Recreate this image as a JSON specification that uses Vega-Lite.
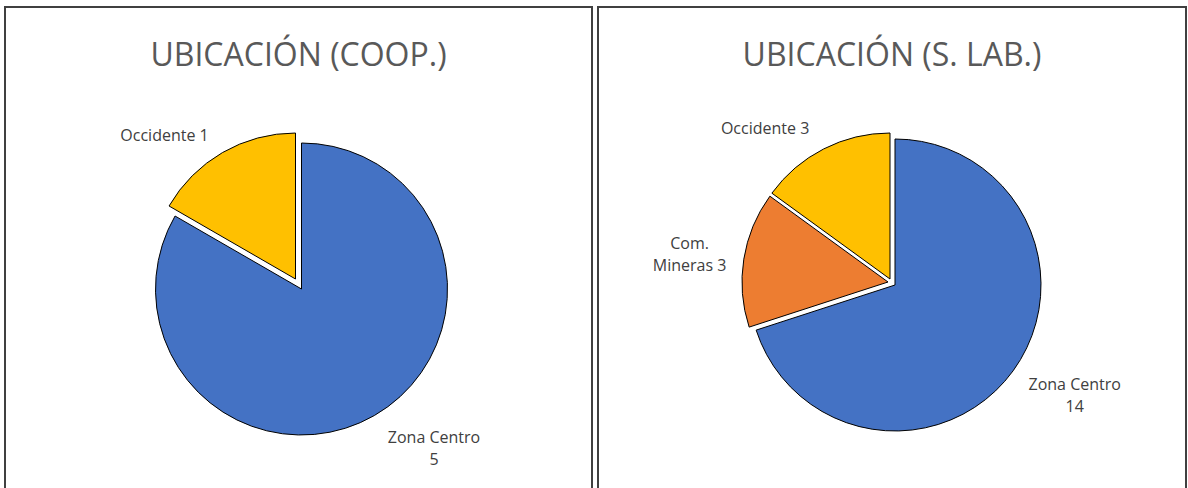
{
  "$schema": "https://vega.github.io/schema/vega-lite/v6.json",
  "background": "white",
  "padding": {"left": 4, "top": 6, "right": 0, "bottom": 0},
  "spacing": 4,
  "config": {
    "view": {"stroke": "#404040", "strokeWidth": 2},
    "title": {"font": "Open Sans", "fontSize": 32, "fontWeight": "normal", "color": "#595959", "offset": -66, "baseline": "alphabetic", "anchor": "middle"},
    "text": {"font": "Open Sans", "fontSize": 16, "color": "#404040"}
  },
  "hconcat": [
    {
      "title": "UBICACIÓN (COOP.)",
      "width": 587,
      "height": 483,
      "view": {"stroke": "#404040", "strokeWidth": 2},
      "data": {"values": [
        {"zona": "Zona Centro", "n": 5, "orden": 1, "label": "Zona Centro\n5"},
        {"zona": "Occidente", "n": 1, "orden": 2, "label": "Occidente 1"}
      ]},
      "encoding": {
        "theta": {"field": "n", "type": "quantitative", "stack": true},
        "order": {"field": "orden", "type": "ordinal"}
      },
      "layer": [
        {
          "mark": {"type": "arc", "radius": 146, "stroke": "black", "strokeWidth": 1, "xOffset": 3, "yOffset": 40.5},
          "encoding": {
            "color": {"field": "zona", "type": "nominal", "scale": {"domain": ["Zona Centro", "Com. Mineras", "Occidente"], "range": ["#4472C4", "#ED7D31", "#FFC000"]}, "legend": null},
            "opacity": {"condition": {"test": "datum.zona === 'Occidente'", "value": 0}, "value": 1}
          }
        },
        {
          "mark": {"type": "arc", "radius": 146, "stroke": "black", "strokeWidth": 1, "xOffset": -3, "yOffset": 30.5},
          "encoding": {
            "color": {"field": "zona", "type": "nominal", "scale": {"domain": ["Zona Centro", "Com. Mineras", "Occidente"], "range": ["#4472C4", "#ED7D31", "#FFC000"]}, "legend": null},
            "opacity": {"condition": {"test": "datum.zona === 'Occidente'", "value": 1}, "value": 0}
          }
        },
        {
          "mark": {"type": "text", "radius": 202, "xOffset": 3, "yOffset": 40.5, "dx": -36, "dy": 22, "lineBreak": "\n", "lineHeight": 22, "align": "center", "baseline": "middle"},
          "encoding": {
            "text": {"condition": {"test": "datum.zona === 'Occidente'", "field": "label"}, "value": ""}
          }
        },
        {
          "mark": {"type": "text", "radius": 205, "xOffset": 3, "yOffset": 40.5, "dx": 30, "dy": -29, "lineBreak": "\n", "lineHeight": 22, "align": "center", "baseline": "middle"},
          "encoding": {
            "text": {"condition": {"test": "datum.zona === 'Zona Centro'", "field": "label"}, "value": ""}
          }
        }
      ]
    },
    {
      "title": "UBICACIÓN (S. LAB.)",
      "width": 588,
      "height": 483,
      "view": {"stroke": "#404040", "strokeWidth": 2},
      "data": {"values": [
        {"zona": "Zona Centro", "n": 14, "orden": 1, "label": "Zona Centro\n14"},
        {"zona": "Com. Mineras", "n": 3, "orden": 2, "label": "Com.\nMineras 3"},
        {"zona": "Occidente", "n": 3, "orden": 3, "label": "Occidente 3"}
      ]},
      "encoding": {
        "theta": {"field": "n", "type": "quantitative", "stack": true},
        "order": {"field": "orden", "type": "ordinal"}
      },
      "layer": [
        {
          "mark": {"type": "arc", "radius": 146, "stroke": "black", "strokeWidth": 1, "xOffset": 3, "yOffset": 36.5},
          "encoding": {
            "color": {"field": "zona", "type": "nominal", "scale": {"domain": ["Zona Centro", "Com. Mineras", "Occidente"], "range": ["#4472C4", "#ED7D31", "#FFC000"]}, "legend": null},
            "opacity": {"condition": {"test": "datum.zona === 'Zona Centro'", "value": 1}, "value": 0}
          }
        },
        {
          "mark": {"type": "arc", "radius": 146, "stroke": "black", "strokeWidth": 1, "xOffset": -4, "yOffset": 33.5},
          "encoding": {
            "color": {"field": "zona", "type": "nominal", "scale": {"domain": ["Zona Centro", "Com. Mineras", "Occidente"], "range": ["#4472C4", "#ED7D31", "#FFC000"]}, "legend": null},
            "opacity": {"condition": {"test": "datum.zona === 'Com. Mineras'", "value": 1}, "value": 0}
          }
        },
        {
          "mark": {"type": "arc", "radius": 146, "stroke": "black", "strokeWidth": 1, "xOffset": -2, "yOffset": 30.5},
          "encoding": {
            "color": {"field": "zona", "type": "nominal", "scale": {"domain": ["Zona Centro", "Com. Mineras", "Occidente"], "range": ["#4472C4", "#ED7D31", "#FFC000"]}, "legend": null},
            "opacity": {"condition": {"test": "datum.zona === 'Occidente'", "value": 1}, "value": 0}
          }
        },
        {
          "mark": {"type": "text", "radius": 198, "xOffset": 3, "yOffset": 36.5, "dx": -40, "dy": 20, "lineBreak": "\n", "lineHeight": 22, "align": "center", "baseline": "middle"},
          "encoding": {
            "text": {"condition": {"test": "datum.zona === 'Occidente'", "field": "label"}, "value": ""}
          }
        },
        {
          "mark": {"type": "text", "radius": 208, "xOffset": 3, "yOffset": 36.5, "dx": 0, "dy": -8, "lineBreak": "\n", "lineHeight": 22, "align": "center", "baseline": "middle"},
          "encoding": {
            "text": {"condition": {"test": "datum.zona === 'Com. Mineras'", "field": "label"}, "value": ""}
          }
        },
        {
          "mark": {"type": "text", "radius": 211, "xOffset": 3, "yOffset": 36.5, "dx": 9, "dy": -24, "lineBreak": "\n", "lineHeight": 22, "align": "center", "baseline": "middle"},
          "encoding": {
            "text": {"condition": {"test": "datum.zona === 'Zona Centro'", "field": "label"}, "value": ""}
          }
        }
      ]
    }
  ]
}
